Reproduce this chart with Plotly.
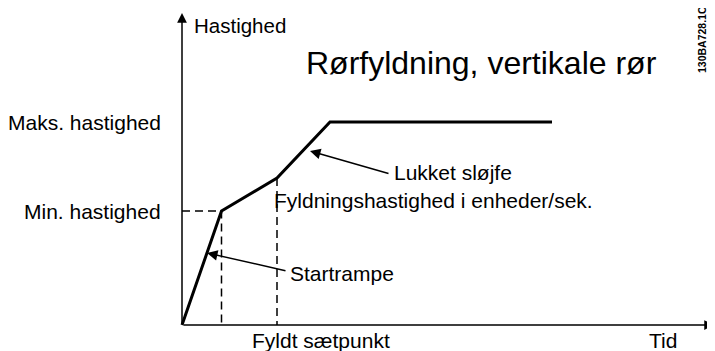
import plotly.graph_objects as go

# Data (abstract units: time on x, speed on y)
time_pts = [0, 39.5, 95, 148, 370]
speed_pts = [0, 114, 147, 203, 203]
min_speed = 114
max_speed = 203
fill_time = 95
ramp_time = 39.5
y_tick_labels = ["Min. hastighed", "Maks. hastighed"]
y_tick_values = [min_speed, max_speed]

FONT = "Liberation Sans, Arial, sans-serif"
fig = go.Figure()

# Dashed helper lines
fig.add_trace(go.Scatter(x=[0, ramp_time, ramp_time], y=[min_speed, min_speed, 0],
                         mode="lines", line=dict(color="black", width=1.5, dash="8px,5px"),
                         hoverinfo="skip", showlegend=False))
fig.add_trace(go.Scatter(x=[fill_time, fill_time], y=[speed_pts[2], 0],
                         mode="lines", line=dict(color="black", width=1.5, dash="8px,5px"),
                         hoverinfo="skip", showlegend=False))
# Main speed curve
fig.add_trace(go.Scatter(x=time_pts, y=speed_pts, mode="lines",
                         line=dict(color="black", width=3),
                         hoverinfo="skip", showlegend=False))

ann = []
# axes arrows
ann.append(dict(x=0, y=312, ax=0, ay=0, xref="x", yref="y", axref="x", ayref="y",
                text="", showarrow=True, arrowhead=2, arrowsize=1.3, arrowwidth=1.5,
                arrowcolor="black", standoff=0, startstandoff=0))
ann.append(dict(x=532, y=0, ax=0, ay=0, xref="x", yref="y", axref="x", ayref="y",
                text="", showarrow=True, arrowhead=2, arrowsize=1.3, arrowwidth=1.5,
                arrowcolor="black", standoff=0, startstandoff=0))
# pointer arrows
ann.append(dict(x=128, y=174, ax=208, ay=151, xref="x", yref="y", axref="x", ayref="y",
                text="", showarrow=True, arrowhead=2, arrowsize=1.4, arrowwidth=1.5,
                arrowcolor="black", standoff=0))
ann.append(dict(x=25, y=72, ax=105, ay=54, xref="x", yref="y", axref="x", ayref="y",
                text="", showarrow=True, arrowhead=2, arrowsize=1.4, arrowwidth=1.5,
                arrowcolor="black", standoff=0))

def txt(x, y, s, size=21, xanchor="left", **kw):
    d = dict(x=x, y=y, xref="x", yref="y", text=s, showarrow=False,
             xanchor=xanchor, yanchor="middle",
             font=dict(family=FONT, size=size, color="black"))
    d.update(kw)
    ann.append(d)

txt(10, 300, "Hastighed", size=20.5)
txt(122, 262, "Rørfyldning, vertikale rør", size=32)
txt(-19, max_speed, y_tick_labels[1], xanchor="right")
txt(-19, min_speed, y_tick_labels[0], xanchor="right")
txt(210, 153, "Lukket sløjfe")
txt(90, 125, "Fyldningshastighed i enheder/sek.")
txt(106, 52, "Startrampe")
txt(139, -15, "Fyldt sætpunkt", xanchor="center")
txt(481, -15, "Tid", xanchor="center")
ann.append(dict(x=520, y=285, xref="x", yref="y", xanchor="center", yanchor="middle",
                text="<b>130BA728.1C</b>", showarrow=False, textangle=-90,
                font=dict(family=FONT, size=10.5, color="black")))

# The page body has an 8px margin: shift the view accordingly
fig.update_layout(
    width=707, height=343,
    margin=dict(l=0, r=0, t=0, b=0),
    paper_bgcolor="white", plot_bgcolor="white",
    xaxis=dict(range=[-174, 533], visible=False, fixedrange=True),
    yaxis=dict(range=[-26, 317], visible=False, fixedrange=True),
    annotations=ann,
    showlegend=False,
)
fig.write_html("out.html")
